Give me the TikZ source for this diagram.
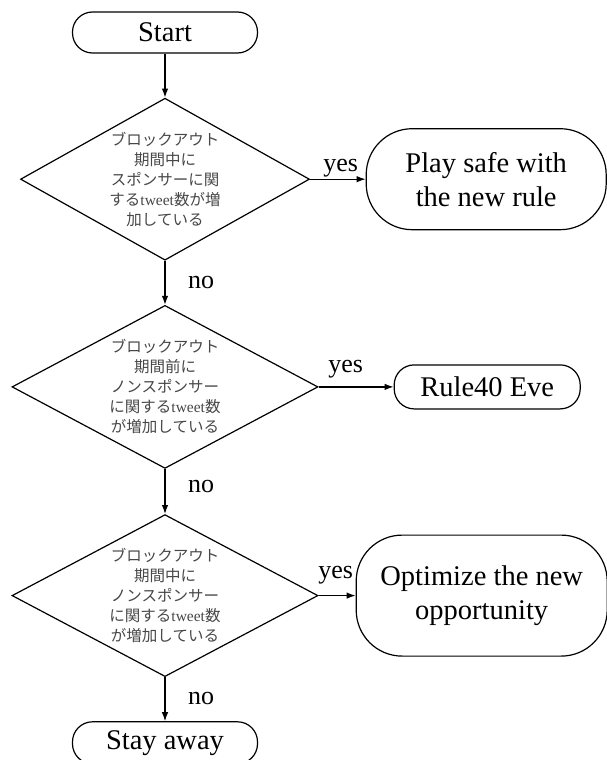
\documentclass[tikz,border=0pt]{standalone}
\usepackage{fontspec}
\setmainfont{Liberation Serif}
\newfontfamily\jpfont{Noto Sans CJK JP}
\usetikzlibrary{positioning, shapes.geometric, arrows.meta}

\begin{document}
\begin{tikzpicture}[x=1pt, y=1pt, >={Latex[length=9pt, width=6.5pt]},
    term/.style={draw, line width=1.2pt, rounded corners=20pt, minimum width=185pt, minimum height=42pt, inner sep=0, font=\fontsize{28.5}{30}\selectfont},
    bigterm/.style={draw, line width=1.2pt, rounded corners=46pt, align=center, inner sep=0, font=\fontsize{28.5}{34}\selectfont},
    decision/.style={draw, line width=1.2pt, diamond, inner sep=0},
    qtext/.style={align=center, text=black!72, font=\fontsize{15.5}{20}\selectfont\jpfont},
    lbl/.style={anchor=base, font=\fontsize{26}{28}\selectfont}]
            \useasboundingbox (0,0) rectangle (607,-760);

            \node [term, minimum height=41pt] (start) at (165,-32.5) {Start};
            \node [decision, minimum width=289pt, minimum height=162pt, below=44pt of start] (q1) {};
            \node [qtext] at (q1) {ブロックアウト\\期間中に\\スポンサーに関\\する{\rmfamily tweet}数が増\\加している};
            \node [bigterm, minimum width=240pt, minimum height=101pt, right=55.5pt of q1] (safe) {Play safe with\\the new rule};

            \node [decision, minimum width=306pt, minimum height=163pt, below=44pt of q1] (q2) {};
            \node [qtext] at (q2) {ブロックアウト\\期間前に\\ノンスポンサー\\に関する{\rmfamily tweet}数\\が増加している};
            \node [term, minimum width=186pt, minimum height=44pt, right=75pt of q2] (eve) {Rule40 Eve};

            \node [decision, minimum width=306pt, minimum height=162pt, below=45pt of q2] (q3) {};
            \node [qtext] at (q3) {ブロックアウト\\期間中に\\ノンスポンサー\\に関する{\rmfamily tweet}数\\が増加している};
            \node [bigterm, minimum width=251pt, minimum height=121pt, right=37pt of q3] (opt) {Optimize the new\\opportunity};

            \node [term, below=44pt of q3] (away) {Stay away};

            \path [->, line width=1.2pt] (start) edge (q1)
            (q1) edge node[lbl, pos=0.55, yshift=8pt] {yes} (safe)
            (q1) edge node[lbl, pos=0.64, xshift=36pt] {no} (q2)
            (q2) edge node[lbl, pos=0.36, yshift=14.5pt] {yes} (eve)
            (q2) edge node[lbl, pos=0.53, xshift=36pt] {no} (q3)
            (q3) edge node[lbl, pos=0.46, yshift=17pt] {yes} (opt)
            (q3) edge node[lbl, pos=0.61, xshift=36pt] {no} (away);
          \end{tikzpicture}
\end{document}
